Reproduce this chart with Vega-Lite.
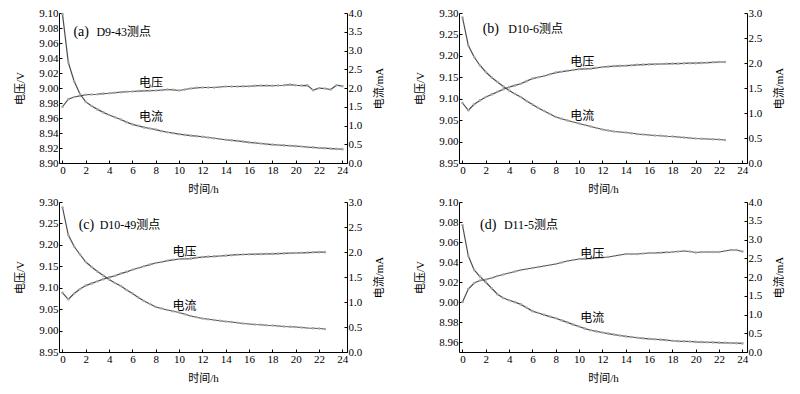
{
"$schema": "https://vega.github.io/schema/vega-lite/v6.json",
"background": "white",
"padding": {"left": 14, "top": 7, "right": 5, "bottom": 5},
"datasets": {
"a": [
{"t":0,"V":8.975,"I":3.97},{"t":0.5,"V":8.985,"I":2.68},{"t":1,"V":8.988,"I":2.18},{"t":1.5,"V":8.9895,"I":1.84},{"t":2,"V":8.991,"I":1.63},{"t":2.5,"V":8.9913,"I":1.52},{"t":3,"V":8.9917,"I":1.43},{"t":3.5,"V":8.9925,"I":1.35},{"t":4,"V":8.993,"I":1.28},{"t":4.5,"V":8.9937,"I":1.22},{"t":5,"V":8.9944,"I":1.16},{"t":5.5,"V":8.995,"I":1.09},{"t":6,"V":8.9953,"I":1.03},{"t":6.5,"V":8.9958,"I":0.99},{"t":7,"V":8.9962,"I":0.95},{"t":7.5,"V":8.9964,"I":0.92},{"t":8,"V":8.9967,"I":0.89},{"t":8.5,"V":8.9972,"I":0.85},{"t":9,"V":8.998,"I":0.82},{"t":9.5,"V":8.9975,"I":0.795},{"t":10,"V":8.9967,"I":0.77},{"t":10.5,"V":8.998,"I":0.75},{"t":11,"V":8.9993,"I":0.73},{"t":11.5,"V":9.0002,"I":0.715},{"t":12,"V":9.0007,"I":0.7},{"t":12.5,"V":9.0007,"I":0.68},{"t":13,"V":9.0007,"I":0.66},{"t":13.5,"V":9.0013,"I":0.64},{"t":14,"V":9.002,"I":0.62},{"t":14.5,"V":9.002,"I":0.605},{"t":15,"V":9.002,"I":0.59},{"t":15.5,"V":9.0022,"I":0.57},{"t":16,"V":9.0023,"I":0.55},{"t":16.5,"V":9.0028,"I":0.535},{"t":17,"V":9.0033,"I":0.52},{"t":17.5,"V":9.0032,"I":0.505},{"t":18,"V":9.003,"I":0.49},{"t":18.5,"V":9.0033,"I":0.48},{"t":19,"V":9.0037,"I":0.47},{"t":19.5,"V":9.0045,"I":0.46},{"t":20,"V":9.0037,"I":0.45},{"t":20.5,"V":9.0033,"I":0.44},{"t":21,"V":9.0035,"I":0.425},{"t":21.5,"V":8.9971,"I":0.415},{"t":22,"V":8.9997,"I":0.4},{"t":22.5,"V":8.9993,"I":0.395},{"t":23,"V":8.998,"I":0.385},{"t":23.5,"V":9.0037,"I":0.375},{"t":24,"V":9.0024,"I":0.37}
],
"b": [
{"t":0,"V":9.09,"I":2.91},{"t":0.5,"V":9.073,"I":2.35},{"t":1,"V":9.087,"I":2.12},{"t":1.5,"V":9.096,"I":1.95},{"t":2,"V":9.104,"I":1.82},{"t":2.5,"V":9.11,"I":1.71},{"t":3,"V":9.116,"I":1.62},{"t":3.5,"V":9.122,"I":1.53},{"t":4,"V":9.127,"I":1.45},{"t":4.5,"V":9.131,"I":1.38},{"t":5,"V":9.135,"I":1.32},{"t":5.5,"V":9.141,"I":1.24},{"t":6,"V":9.147,"I":1.17},{"t":6.5,"V":9.15,"I":1.1},{"t":7,"V":9.153,"I":1.04},{"t":7.5,"V":9.157,"I":0.98},{"t":8,"V":9.161,"I":0.92},{"t":8.5,"V":9.163,"I":0.885},{"t":9,"V":9.165,"I":0.85},{"t":9.5,"V":9.167,"I":0.82},{"t":10,"V":9.169,"I":0.79},{"t":10.5,"V":9.1695,"I":0.76},{"t":11,"V":9.17,"I":0.73},{"t":11.5,"V":9.172,"I":0.7},{"t":12,"V":9.174,"I":0.67},{"t":12.5,"V":9.175,"I":0.65},{"t":13,"V":9.176,"I":0.63},{"t":13.5,"V":9.1765,"I":0.62},{"t":14,"V":9.177,"I":0.61},{"t":14.5,"V":9.178,"I":0.595},{"t":15,"V":9.179,"I":0.58},{"t":15.5,"V":9.1795,"I":0.57},{"t":16,"V":9.18,"I":0.56},{"t":16.5,"V":9.1805,"I":0.55},{"t":17,"V":9.181,"I":0.545},{"t":17.5,"V":9.1815,"I":0.535},{"t":18,"V":9.182,"I":0.53},{"t":18.5,"V":9.182,"I":0.52},{"t":19,"V":9.1825,"I":0.51},{"t":19.5,"V":9.183,"I":0.5},{"t":20,"V":9.183,"I":0.49},{"t":20.5,"V":9.1835,"I":0.485},{"t":21,"V":9.184,"I":0.48},{"t":21.5,"V":9.185,"I":0.475},{"t":22,"V":9.1857,"I":0.47},{"t":22.5,"V":9.1857,"I":0.46}
],
"c": [
{"t":0,"V":9.088,"I":2.89},{"t":0.5,"V":9.073,"I":2.34},{"t":1,"V":9.0865,"I":2.11},{"t":1.5,"V":9.097,"I":1.95},{"t":2,"V":9.105,"I":1.8},{"t":2.5,"V":9.11,"I":1.7},{"t":3,"V":9.115,"I":1.61},{"t":3.5,"V":9.12,"I":1.53},{"t":4,"V":9.124,"I":1.45},{"t":4.5,"V":9.128,"I":1.38},{"t":5,"V":9.133,"I":1.32},{"t":5.5,"V":9.137,"I":1.24},{"t":6,"V":9.142,"I":1.17},{"t":6.5,"V":9.146,"I":1.09},{"t":7,"V":9.15,"I":1.02},{"t":7.5,"V":9.154,"I":0.96},{"t":8,"V":9.1576,"I":0.9},{"t":8.5,"V":9.16,"I":0.87},{"t":9,"V":9.163,"I":0.84},{"t":9.5,"V":9.165,"I":0.815},{"t":10,"V":9.167,"I":0.79},{"t":10.5,"V":9.1675,"I":0.755},{"t":11,"V":9.168,"I":0.72},{"t":11.5,"V":9.17,"I":0.695},{"t":12,"V":9.1715,"I":0.67},{"t":12.5,"V":9.1725,"I":0.655},{"t":13,"V":9.173,"I":0.64},{"t":13.5,"V":9.174,"I":0.625},{"t":14,"V":9.175,"I":0.61},{"t":14.5,"V":9.176,"I":0.6},{"t":15,"V":9.177,"I":0.585},{"t":15.5,"V":9.1775,"I":0.57},{"t":16,"V":9.178,"I":0.56},{"t":16.5,"V":9.1782,"I":0.55},{"t":17,"V":9.1785,"I":0.545},{"t":17.5,"V":9.179,"I":0.535},{"t":18,"V":9.179,"I":0.53},{"t":18.5,"V":9.1795,"I":0.52},{"t":19,"V":9.18,"I":0.51},{"t":19.5,"V":9.1805,"I":0.505},{"t":20,"V":9.181,"I":0.5},{"t":20.5,"V":9.1815,"I":0.49},{"t":21,"V":9.182,"I":0.48},{"t":21.5,"V":9.1825,"I":0.475},{"t":22,"V":9.183,"I":0.47},{"t":22.5,"V":9.183,"I":0.46}
],
"d": [
{"t":0,"V":9.0,"I":3.38},{"t":0.5,"V":9.013,"I":2.56},{"t":1,"V":9.019,"I":2.19},{"t":1.5,"V":9.0215,"I":2.01},{"t":2,"V":9.0225,"I":1.86},{"t":2.5,"V":9.024,"I":1.7},{"t":3,"V":9.026,"I":1.54},{"t":3.5,"V":9.0275,"I":1.44},{"t":4,"V":9.029,"I":1.38},{"t":4.5,"V":9.0305,"I":1.33},{"t":5,"V":9.032,"I":1.27},{"t":5.5,"V":9.033,"I":1.18},{"t":6,"V":9.034,"I":1.09},{"t":6.5,"V":9.035,"I":1.04},{"t":7,"V":9.036,"I":0.99},{"t":7.5,"V":9.037,"I":0.945},{"t":8,"V":9.038,"I":0.9},{"t":8.5,"V":9.0395,"I":0.845},{"t":9,"V":9.041,"I":0.79},{"t":9.5,"V":9.042,"I":0.73},{"t":10,"V":9.043,"I":0.68},{"t":10.5,"V":9.0432,"I":0.625},{"t":11,"V":9.0435,"I":0.58},{"t":11.5,"V":9.044,"I":0.55},{"t":12,"V":9.0445,"I":0.52},{"t":12.5,"V":9.045,"I":0.49},{"t":13,"V":9.046,"I":0.465},{"t":13.5,"V":9.047,"I":0.44},{"t":14,"V":9.048,"I":0.415},{"t":14.5,"V":9.048,"I":0.4},{"t":15,"V":9.048,"I":0.38},{"t":15.5,"V":9.0485,"I":0.365},{"t":16,"V":9.049,"I":0.35},{"t":16.5,"V":9.049,"I":0.34},{"t":17,"V":9.0493,"I":0.33},{"t":17.5,"V":9.0497,"I":0.315},{"t":18,"V":9.05,"I":0.3},{"t":18.5,"V":9.0505,"I":0.29},{"t":19,"V":9.051,"I":0.285},{"t":19.5,"V":9.0505,"I":0.28},{"t":20,"V":9.0495,"I":0.27},{"t":20.5,"V":9.05,"I":0.265},{"t":21,"V":9.05,"I":0.26},{"t":21.5,"V":9.05,"I":0.255},{"t":22,"V":9.05,"I":0.25},{"t":22.5,"V":9.051,"I":0.245},{"t":23,"V":9.052,"I":0.24},{"t":23.5,"V":9.052,"I":0.235},{"t":24,"V":9.0505,"I":0.23}
]
},
"columns": 2,
"bounds": "flush",
"spacing": {"column": 112, "row": 39},
"concat": [
{
"width": 288, "height": 150,
"data": {"name": "a"},
"layer": [
{"layer": [
{"mark": {"type": "line", "color": "#4d4d4d", "strokeWidth": 1.2, "point": {"filled": true, "color": "#a8a8a8", "size": 7}},
"encoding": {
"x": {"field": "t", "type": "quantitative", "scale": {"domain": [-0.3, 24.4], "nice": false}, "axis": {"values": [0,2,4,6,8,10,12,14,16,18,20,22,24], "tickCount": 100, "format": "d", "title": "时间/h"}},
"y": {"field": "V", "type": "quantitative", "scale": {"domain": [8.9, 9.1], "nice": false, "zero": false}, "axis": {"values": [8.9,8.92,8.94,8.96,8.98,9.0,9.02,9.04,9.06,9.08,9.1], "tickCount": 100, "format": ".2f", "title": "电压/V", "orient": "left", "titlePadding": 13}}
}},
{"data": {"values": [{}]}, "mark": {"type": "text", "align": "left", "baseline": "middle", "fontSize": 14, "font": "Liberation Serif"}, "encoding": {"x": {"datum": 0.94}, "y": {"datum": 9.075}, "text": {"value": "(a)"}}},
{"data": {"values": [{}]}, "mark": {"type": "text", "align": "left", "baseline": "middle", "fontSize": 12, "font": "Liberation Serif, Noto Sans CJK SC"}, "encoding": {"x": {"datum": 2.91}, "y": {"datum": 9.075}, "text": {"value": "D9-43测点"}}},
{"data": {"values": [{}]}, "mark": {"type": "text", "align": "center", "baseline": "middle", "fontSize": 12, "font": "Noto Sans CJK SC"}, "encoding": {"x": {"datum": 7.6}, "y": {"datum": 9.0073}, "text": {"value": "电压"}}},
{"data": {"values": [{}]}, "mark": {"type": "text", "align": "center", "baseline": "middle", "fontSize": 12, "font": "Noto Sans CJK SC"}, "encoding": {"x": {"datum": 7.6}, "y": {"datum": 8.9607}, "text": {"value": "电流"}}}
]},
{"mark": {"type": "line", "color": "#4d4d4d", "strokeWidth": 1.2, "point": {"filled": true, "color": "#a8a8a8", "size": 7}},
"encoding": {
"x": {"field": "t", "type": "quantitative", "axis": {"values": [0,2,4,6,8,10,12,14,16,18,20,22,24], "tickCount": 100, "format": "d", "title": "时间/h"}},
"y": {"field": "I", "type": "quantitative", "scale": {"domain": [0, 4], "nice": false}, "axis": {"values": [0,0.5,1,1.5,2,2.5,3,3.5,4], "tickCount": 100, "format": ".1f", "title": "电流/mA", "orient": "right", "titleAngle": 270, "titlePadding": 23}}
}}
],
"resolve": {"scale": {"y": "independent"}}
},
{
"width": 288, "height": 150,
"data": {"name": "b"},
"layer": [
{"layer": [
{"mark": {"type": "line", "color": "#4d4d4d", "strokeWidth": 1.2, "point": {"filled": true, "color": "#a8a8a8", "size": 7}},
"encoding": {
"x": {"field": "t", "type": "quantitative", "scale": {"domain": [-0.3, 24.4], "nice": false}, "axis": {"values": [0,2,4,6,8,10,12,14,16,18,20,22,24], "tickCount": 100, "format": "d", "title": "时间/h"}},
"y": {"field": "V", "type": "quantitative", "scale": {"domain": [8.95, 9.3], "nice": false, "zero": false}, "axis": {"values": [8.95,9.0,9.05,9.1,9.15,9.2,9.25,9.3], "tickCount": 100, "format": ".2f", "title": "电压/V", "orient": "left", "titlePadding": 13}}
}},
{"data": {"values": [{}]}, "mark": {"type": "text", "align": "left", "baseline": "middle", "fontSize": 14, "font": "Liberation Serif"}, "encoding": {"x": {"datum": 1.73}, "y": {"datum": 9.2627}, "text": {"value": "(b)"}}},
{"data": {"values": [{}]}, "mark": {"type": "text", "align": "left", "baseline": "middle", "fontSize": 12, "font": "Liberation Serif, Noto Sans CJK SC"}, "encoding": {"x": {"datum": 3.93}, "y": {"datum": 9.2627}, "text": {"value": "D10-6测点"}}},
{"data": {"values": [{}]}, "mark": {"type": "text", "align": "center", "baseline": "middle", "fontSize": 12, "font": "Noto Sans CJK SC"}, "encoding": {"x": {"datum": 10.27}, "y": {"datum": 9.1857}, "text": {"value": "电压"}}},
{"data": {"values": [{}]}, "mark": {"type": "text", "align": "center", "baseline": "middle", "fontSize": 12, "font": "Noto Sans CJK SC"}, "encoding": {"x": {"datum": 10.27}, "y": {"datum": 9.0597}, "text": {"value": "电流"}}}
]},
{"mark": {"type": "line", "color": "#4d4d4d", "strokeWidth": 1.2, "point": {"filled": true, "color": "#a8a8a8", "size": 7}},
"encoding": {
"x": {"field": "t", "type": "quantitative", "axis": {"values": [0,2,4,6,8,10,12,14,16,18,20,22,24], "tickCount": 100, "format": "d", "title": "时间/h"}},
"y": {"field": "I", "type": "quantitative", "scale": {"domain": [0, 3], "nice": false}, "axis": {"values": [0,0.5,1,1.5,2,2.5,3], "tickCount": 100, "format": ".1f", "title": "电流/mA", "orient": "right", "titleAngle": 270, "titlePadding": 23}}
}}
],
"resolve": {"scale": {"y": "independent"}}
},
{
"width": 288, "height": 150,
"data": {"name": "c"},
"layer": [
{"layer": [
{"mark": {"type": "line", "color": "#4d4d4d", "strokeWidth": 1.2, "point": {"filled": true, "color": "#a8a8a8", "size": 7}},
"encoding": {
"x": {"field": "t", "type": "quantitative", "scale": {"domain": [-0.3, 24.4], "nice": false}, "axis": {"values": [0,2,4,6,8,10,12,14,16,18,20,22,24], "tickCount": 100, "format": "d", "title": "时间/h"}},
"y": {"field": "V", "type": "quantitative", "scale": {"domain": [8.95, 9.3], "nice": false, "zero": false}, "axis": {"values": [8.95,9.0,9.05,9.1,9.15,9.2,9.25,9.3], "tickCount": 100, "format": ".2f", "title": "电压/V", "orient": "left", "titlePadding": 13}}
}},
{"data": {"values": [{}]}, "mark": {"type": "text", "align": "left", "baseline": "middle", "fontSize": 14, "font": "Liberation Serif"}, "encoding": {"x": {"datum": 1.39}, "y": {"datum": 9.2473}, "text": {"value": "(c)"}}},
{"data": {"values": [{}]}, "mark": {"type": "text", "align": "left", "baseline": "middle", "fontSize": 12, "font": "Liberation Serif, Noto Sans CJK SC"}, "encoding": {"x": {"datum": 3.19}, "y": {"datum": 9.2473}, "text": {"value": "D10-49测点"}}},
{"data": {"values": [{}]}, "mark": {"type": "text", "align": "center", "baseline": "middle", "fontSize": 12, "font": "Noto Sans CJK SC"}, "encoding": {"x": {"datum": 10.46}, "y": {"datum": 9.1824}, "text": {"value": "电压"}}},
{"data": {"values": [{}]}, "mark": {"type": "text", "align": "center", "baseline": "middle", "fontSize": 12, "font": "Noto Sans CJK SC"}, "encoding": {"x": {"datum": 10.46}, "y": {"datum": 9.0578}, "text": {"value": "电流"}}}
]},
{"mark": {"type": "line", "color": "#4d4d4d", "strokeWidth": 1.2, "point": {"filled": true, "color": "#a8a8a8", "size": 7}},
"encoding": {
"x": {"field": "t", "type": "quantitative", "axis": {"values": [0,2,4,6,8,10,12,14,16,18,20,22,24], "tickCount": 100, "format": "d", "title": "时间/h"}},
"y": {"field": "I", "type": "quantitative", "scale": {"domain": [0, 3], "nice": false}, "axis": {"values": [0,0.5,1,1.5,2,2.5,3], "tickCount": 100, "format": ".1f", "title": "电流/mA", "orient": "right", "titleAngle": 270, "titlePadding": 23}}
}}
],
"resolve": {"scale": {"y": "independent"}}
},
{
"width": 288, "height": 150,
"data": {"name": "d"},
"layer": [
{"layer": [
{"mark": {"type": "line", "color": "#4d4d4d", "strokeWidth": 1.2, "point": {"filled": true, "color": "#a8a8a8", "size": 7}},
"encoding": {
"x": {"field": "t", "type": "quantitative", "scale": {"domain": [-0.3, 24.4], "nice": false}, "axis": {"values": [0,2,4,6,8,10,12,14,16,18,20,22,24], "tickCount": 100, "format": "d", "title": "时间/h"}},
"y": {"field": "V", "type": "quantitative", "scale": {"domain": [8.95, 9.1], "nice": false, "zero": false}, "axis": {"values": [8.96,8.98,9.0,9.02,9.04,9.06,9.08,9.1], "tickCount": 100, "format": ".2f", "title": "电压/V", "orient": "left", "titlePadding": 13}}
}},
{"data": {"values": [{}]}, "mark": {"type": "text", "align": "left", "baseline": "middle", "fontSize": 14, "font": "Liberation Serif"}, "encoding": {"x": {"datum": 1.5}, "y": {"datum": 9.0775}, "text": {"value": "(d)"}}},
{"data": {"values": [{}]}, "mark": {"type": "text", "align": "left", "baseline": "middle", "fontSize": 12, "font": "Liberation Serif, Noto Sans CJK SC"}, "encoding": {"x": {"datum": 3.55}, "y": {"datum": 9.0775}, "text": {"value": "D11-5测点"}}},
{"data": {"values": [{}]}, "mark": {"type": "text", "align": "center", "baseline": "middle", "fontSize": 12, "font": "Noto Sans CJK SC"}, "encoding": {"x": {"datum": 11.13}, "y": {"datum": 9.048}, "text": {"value": "电压"}}},
{"data": {"values": [{}]}, "mark": {"type": "text", "align": "center", "baseline": "middle", "fontSize": 12, "font": "Noto Sans CJK SC"}, "encoding": {"x": {"datum": 11.13}, "y": {"datum": 8.9841}, "text": {"value": "电流"}}}
]},
{"mark": {"type": "line", "color": "#4d4d4d", "strokeWidth": 1.2, "point": {"filled": true, "color": "#a8a8a8", "size": 7}},
"encoding": {
"x": {"field": "t", "type": "quantitative", "axis": {"values": [0,2,4,6,8,10,12,14,16,18,20,22,24], "tickCount": 100, "format": "d", "title": "时间/h"}},
"y": {"field": "I", "type": "quantitative", "scale": {"domain": [0, 4], "nice": false}, "axis": {"values": [0,0.5,1,1.5,2,2.5,3,3.5,4], "tickCount": 100, "format": ".1f", "title": "电流/mA", "orient": "right", "titleAngle": 270, "titlePadding": 23}}
}}
],
"resolve": {"scale": {"y": "independent"}}
}
],
"config": {
"view": {"stroke": null},
"axis": {"grid": false, "labelFont": "Liberation Serif", "labelFontSize": 11, "labelColor": "#000", "titleFont": "Liberation Serif, Noto Sans CJK SC", "titleFontSize": 11, "titleFontWeight": "normal", "titleColor": "#000", "domainColor": "#000", "tickColor": "#000", "tickSize": -3, "labelPadding": 4, "titlePadding": 8, "labelFlush": false, "labelOverlap": false}
}
}
